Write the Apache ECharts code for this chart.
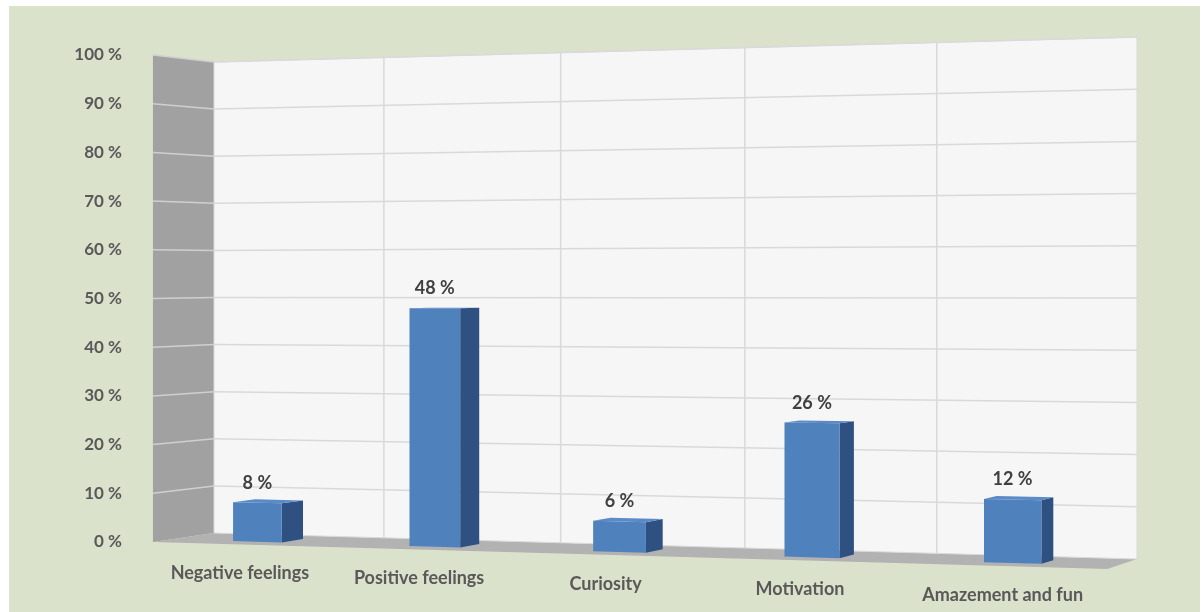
<!DOCTYPE html>
<html>
<head>
<meta charset="utf-8">
<script src="https://cdn.jsdelivr.net/npm/echarts@6/dist/echarts.min.js"></script>
<style>
  html, body { margin: 0; padding: 0; background: #ffffff; }
  #bg { position: absolute; left: 9px; top: 6px; width: 1191px; height: 606px; background: #dbe2cb; }
  #chart { position: absolute; left: 0; top: 0; width: 1203px; height: 612px; }
</style>
</head>
<body>
<div id="bg"></div>
<div id="chart"></div>
<script>
// ---- data ----
const categories = ['Negative feelings', 'Positive feelings', 'Curiosity', 'Motivation', 'Amazement and fun'];
const values = [8, 48, 6, 26, 12];
const yTicks = [0, 10, 20, 30, 40, 50, 60, 70, 80, 90, 100];
const boundaries = [1, 2, 3, 4];

// ---- perspective view (layout) ----
const view = {
  // back wall corners: bottom-left, bottom-right, top-right, top-left
  wall: [[214, 533], [1137, 559], [1137, 37], [214, 62]],
  vp: [2010, 268],     // depth vanishing point
  k: 0.034,            // depth scale factor for full depth
  d0: 0.33, d1: 0.70,  // bar depth span
  barFrac: 0.28
};
const H = (function () {
  const [p0, p1, p2, p3] = view.wall;
  const dx1 = p1[0] - p2[0], dx2 = p3[0] - p2[0], dx3 = p0[0] - p1[0] + p2[0] - p3[0];
  const dy1 = p1[1] - p2[1], dy2 = p3[1] - p2[1], dy3 = p0[1] - p1[1] + p2[1] - p3[1];
  const den = dx1 * dy2 - dx2 * dy1;
  const g = (dx3 * dy2 - dx2 * dy3) / den;
  const h = (dx1 * dy3 - dx3 * dy1) / den;
  const A = p1[0] - p0[0] + g * p1[0], B = p3[0] - p0[0] + h * p3[0], C = p0[0];
  const D = p1[1] - p0[1] + g * p1[1], E = p3[1] - p0[1] + h * p3[1], F = p0[1];
  return function (a, b) {
    const w = g * a + h * b + 1;
    return [(A * a + B * b + C) / w, (D * a + E * b + F) / w];
  };
})();
function project(a, b, d) {
  const p = H(a, b);
  const s = 1 + view.k * d;
  return [view.vp[0] + s * (p[0] - view.vp[0]), view.vp[1] + s * (p[1] - view.vp[1])];
}
function normA(cs, x) { return (x - cs.x) / cs.width; }
function normB(cs, y) { return (cs.y + cs.height - y) / cs.height; }

const FONT = 'Lato, "Open Sans", sans-serif';
const chart = echarts.init(document.getElementById('chart'), null, { renderer: 'canvas' });

const option = {
  backgroundColor: 'transparent',
  animation: false,
  grid: { left: 153, right: 66, top: 55, bottom: 70 },
  xAxis: {
    type: 'category', data: categories,
    axisLine: { show: false }, axisTick: { show: false }, axisLabel: { show: false }, splitLine: { show: false }
  },
  yAxis: {
    type: 'value', min: 0, max: 100, interval: 10,
    axisLine: { show: false }, axisTick: { show: false }, splitLine: { show: false },
    axisLabel: { formatter: '{value} %', color: '#595959', fontFamily: FONT, fontWeight: 'bold', fontSize: 17, margin: 31 }
  },
  series: [
    { // walls and floor
      type: 'custom', silent: true, data: [[0, 0]],
      renderItem: function (params, api) {
        const cs = params.coordSys;
        const bTop = normB(cs, api.coord([0, 100])[1]);
        const bBot = normB(cs, api.coord([0, 0])[1]);
        const poly = (pts, fill, stroke) => ({ type: 'polygon', shape: { points: pts }, style: { fill: fill, stroke: stroke || null, lineWidth: 1 } });
        return { type: 'group', children: [
          poly([project(0, bBot, 0), project(0, bBot, 1), project(0, bTop, 1), project(0, bTop, 0)], '#a1a1a1'),
          poly([project(0, bBot, 0), project(1, bBot, 0), project(1, bBot, 1), project(0, bBot, 1)], '#b2b2b2'),
          poly([project(0, bBot, 0), project(1, bBot, 0), project(1, bTop, 0), project(0, bTop, 0)], '#f6f6f6', '#d9d9d9')
        ]};
      }
    },
    { // horizontal gridlines
      type: 'custom', silent: true, data: yTicks.filter(v => v > 0).map(v => [0, v]),
      renderItem: function (params, api) {
        const cs = params.coordSys;
        const b = normB(cs, api.coord([0, api.value(1)])[1]);
        return { type: 'group', children: [
          { type: 'polyline', shape: { points: [project(0, b, 1), project(0, b, 0)] }, style: { stroke: '#cfcfcf', lineWidth: 1.5, fill: null } },
          { type: 'polyline', shape: { points: [project(0, b, 0), project(1, b, 0)] }, style: { stroke: '#d9d9d9', lineWidth: 1.5, fill: null } }
        ]};
      }
    },
    { // vertical gridlines between categories
      type: 'custom', silent: true, data: boundaries.map(c => [c, 0]),
      renderItem: function (params, api) {
        const cs = params.coordSys;
        const c = api.value(0);
        const x = api.coord([c, 0])[0] - api.size([1, 0])[0] / 2;
        const a = normA(cs, x);
        const bTop = normB(cs, api.coord([0, 100])[1]);
        return { type: 'line', shape: { x1: project(a, 0, 0)[0], y1: project(a, 0, 0)[1], x2: project(a, bTop, 0)[0], y2: project(a, bTop, 0)[1] },
                 style: { stroke: '#d9d9d9', lineWidth: 1.5 } };
      }
    },
    { // 3D bars with labels
      type: 'custom', data: values.map((v, i) => [i, v]), encode: { x: 0, y: 1 },
      renderItem: function (params, api) {
        const cs = params.coordSys;
        const c = api.value(0), v = api.value(1);
        const pt = api.coord([c, v]), pb = api.coord([c, 0]);
        const band = api.size([1, 0])[0];
        const ac = normA(cs, pt[0]);
        const half = band * view.barFrac / 2 / cs.width;
        const bt = normB(cs, pt[1]), bb = normB(cs, pb[1]);
        const a0 = ac - half, a1 = ac + half, D0 = view.d0, D1 = view.d1;
        const poly = (pts, fill) => ({ type: 'polygon', shape: { points: pts }, style: { fill: fill } });
        const lab = project(ac, bt, D1);
        return { type: 'group', children: [
          poly([project(a1, bb, D1), project(a1, bb, D0), project(a1, bt, D0), project(a1, bt, D1)], '#2f5182'),
          poly([project(a0, bt, D1), project(a1, bt, D1), project(a1, bt, D0), project(a0, bt, D0)], '#5a8bc8'),
          poly([project(a0, bb, D1), project(a1, bb, D1), project(a1, bt, D1), project(a0, bt, D1)], '#4f81bd'),
          { type: 'text', style: { x: lab[0], y: lab[1] - 20, text: v + ' %', fill: '#404040', font: 'bold 18px ' + FONT, align: 'center', verticalAlign: 'middle' } }
        ]};
      }
    },
    { // category labels along the front of the floor
      type: 'custom', silent: true, data: categories.map((c, i) => [i, 0]),
      renderItem: function (params, api) {
        const cs = params.coordSys;
        const i = api.value(0);
        const p = api.coord([i, 0]);
        const q = project(normA(cs, p[0]), normB(cs, p[1]), 1);
        return { type: 'text', style: { x: q[0], y: q[1] + 29, text: categories[i], fill: '#595959', font: 'bold 18px ' + FONT, align: 'center', verticalAlign: 'middle' } };
      }
    }
  ]
};
chart.setOption(option);
</script>
</body>
</html>
